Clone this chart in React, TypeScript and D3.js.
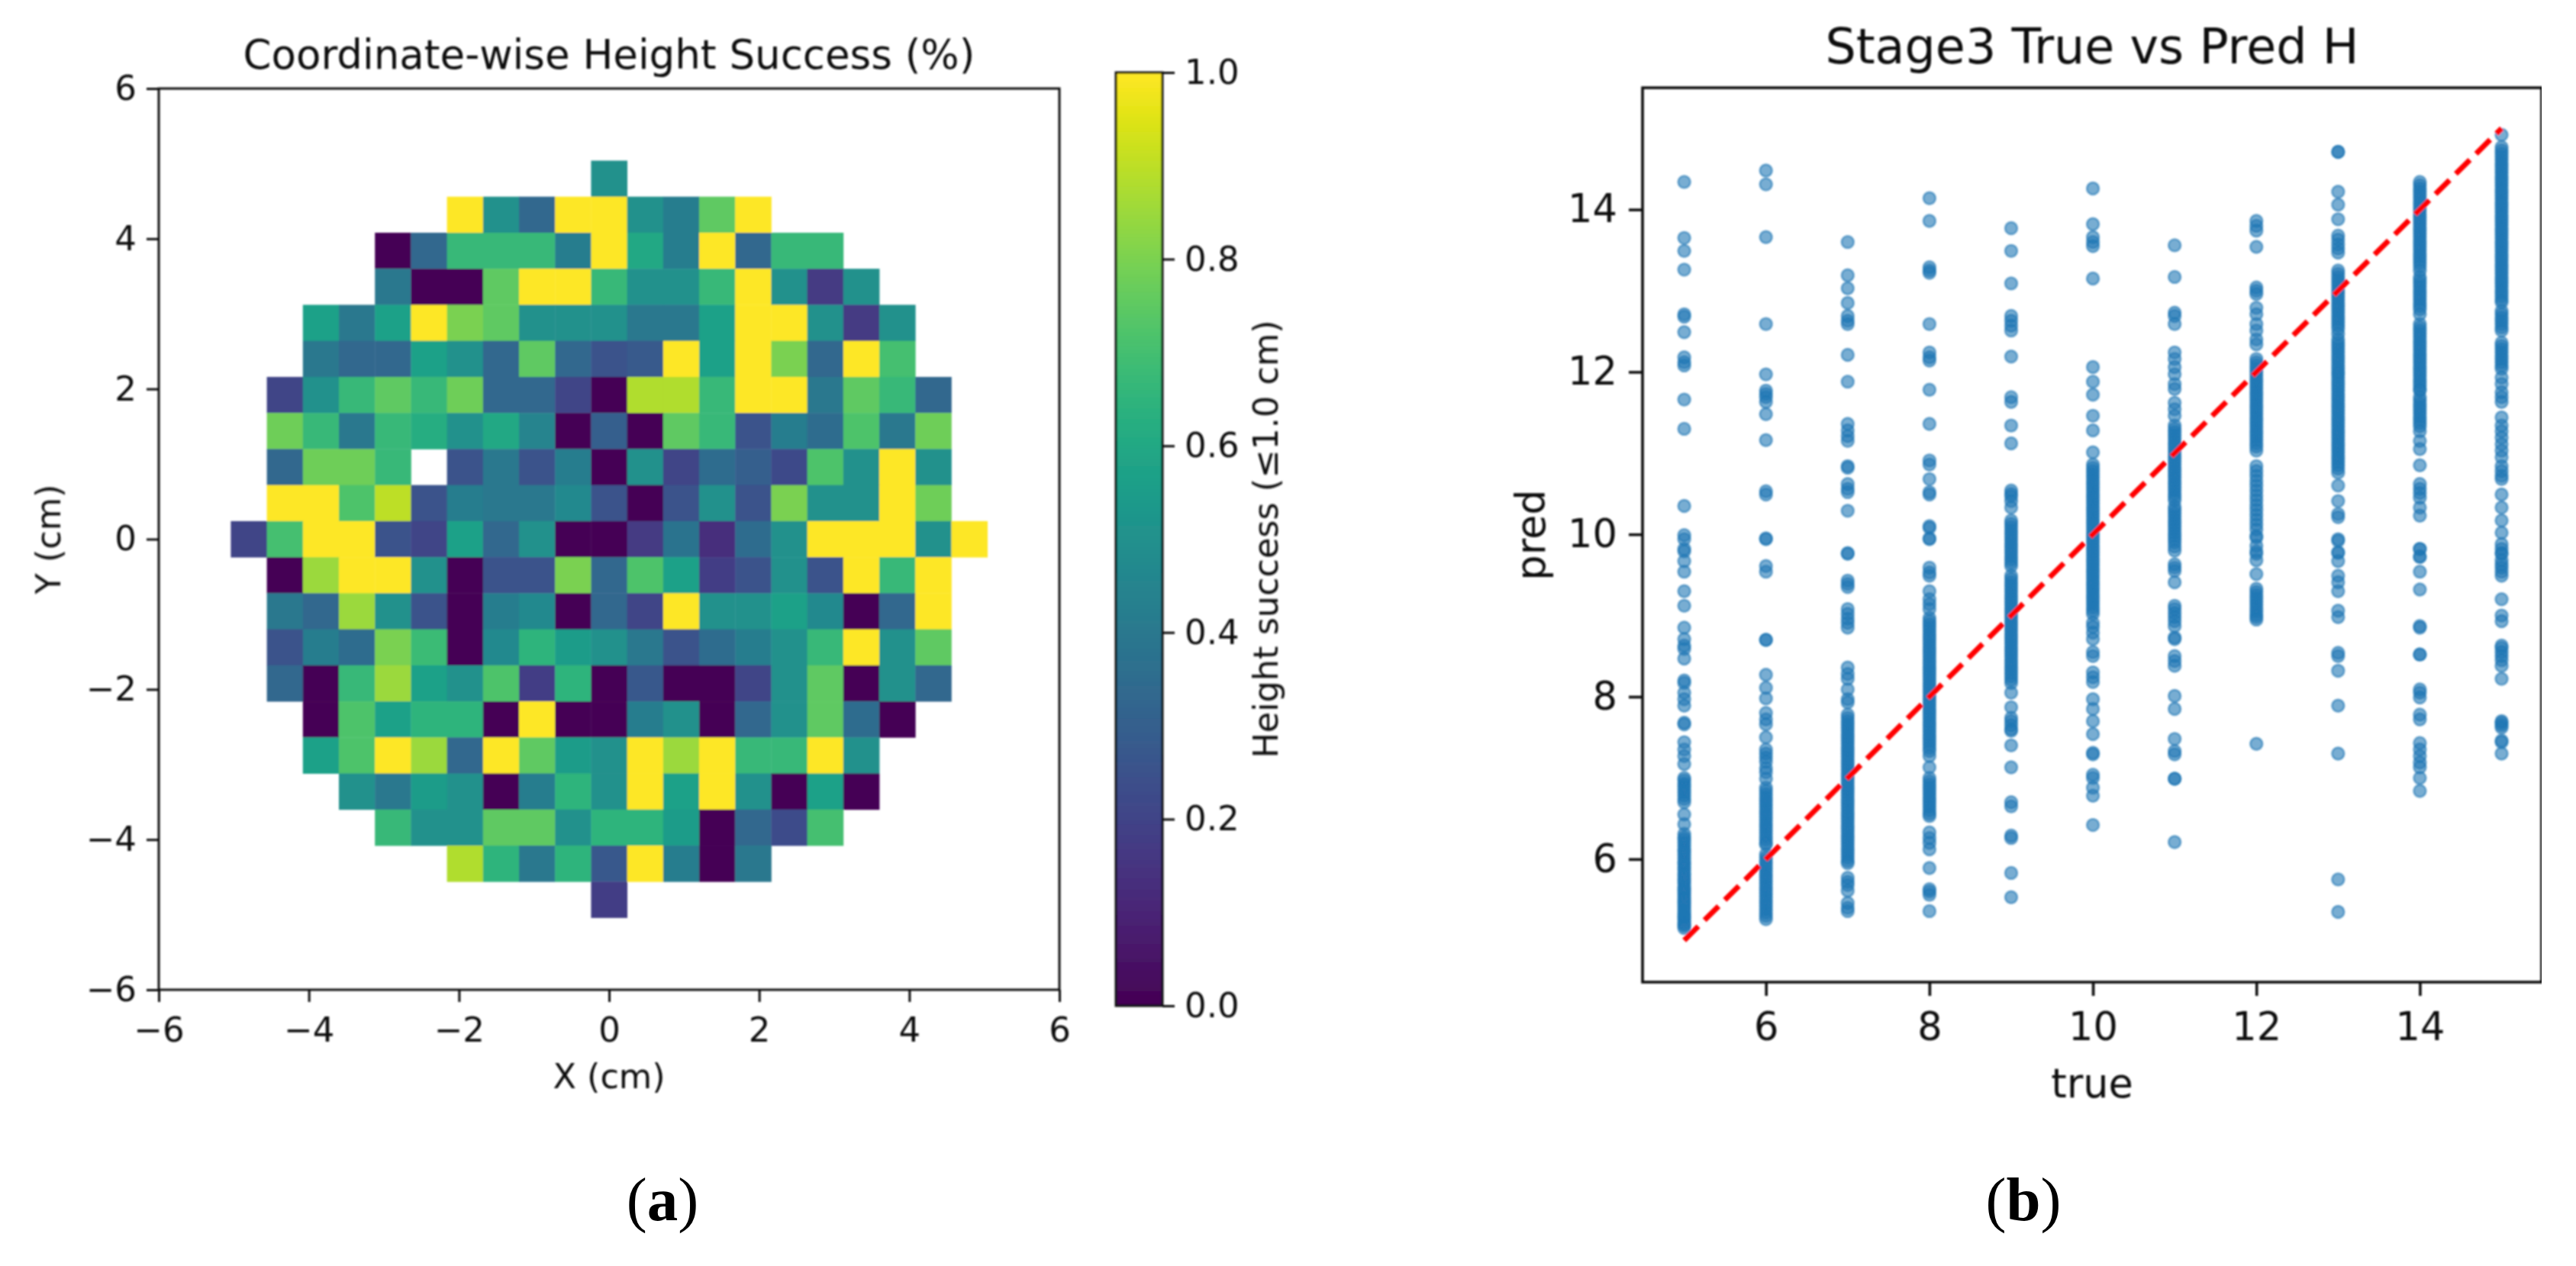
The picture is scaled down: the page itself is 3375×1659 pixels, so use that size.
import React, { useEffect, useRef } from "react";
import * as d3 from "d3";

const W = 3375;
const H = 1659;

// ---------- left panel data: success rate per grid cell, top row first (null = no cell)
const _ = null;
const heatRow00 = [_,_,_,_,_,_,_,_,_,_,.5,_,_,_,_,_,_,_,_,_,_];
const heatRow01 = [_,_,_,_,_,_,1,.5,.33,1,1,.5,.42,.75,1,_,_,_,_,_,_];
const heatRow02 = [_,_,_,_,0,.33,.67,.67,.67,.42,1,.6,.42,1,.33,.67,.67,_,_,_,_];
const heatRow03 = [_,_,_,_,.4,0,0,.75,1,1,.67,.5,.5,.67,1,.5,.17,.5,_,_,_];
const heatRow04 = [_,_,.57,.4,.57,1,.8,.75,.5,.5,.5,.4,.4,.57,1,1,.5,.17,.5,_,_];
const heatRow05 = [_,_,.4,.33,.33,.57,.5,.33,.75,.33,.25,.28,1,.57,1,.8,.33,1,.7,_,_];
const heatRow06 = [_,.2,.5,.67,.75,.67,.78,.33,.33,.2,0,.88,.88,.67,1,1,.4,.75,.67,.33,_];
const heatRow07 = [_,.78,.67,.4,.67,.62,.5,.6,.45,0,.3,0,.75,.67,.25,.42,.35,.72,.4,.78,_];
const heatRow08 = [_,.33,.78,.78,.67,_,.25,.4,.25,.42,0,.5,.2,.35,.3,.22,.72,.5,1,.5,_];
const heatRow09 = [_,1,1,.72,.9,.25,.42,.4,.4,.47,.25,0,.25,.5,.25,.8,.5,.5,1,.78,_];
const heatRow10 = [.2,.7,1,1,.25,.2,.57,.33,.5,0,0,.17,.38,.13,.35,.5,1,1,1,.5,1];
const heatRow11 = [_,0,.85,1,1,.5,0,.25,.25,.8,.33,.72,.57,.18,.25,.5,.25,1,.67,1,_];
const heatRow12 = [_,.4,.33,.85,.5,.25,0,.42,.47,0,.33,.2,1,.5,.5,.57,.47,0,.33,1,_];
const heatRow13 = [_,.25,.42,.35,.8,.68,0,.47,.65,.55,.5,.4,.25,.35,.42,.5,.67,1,.5,.75,_];
const heatRow14 = [_,.33,0,.67,.85,.57,.5,.72,.18,.65,0,.27,0,0,.2,.5,.75,0,.5,.33,_];
const heatRow15 = [_,_,0,.72,.57,.65,.65,0,1,0,0,.42,.5,0,.33,.5,.75,.35,0,_,_];
const heatRow16 = [_,_,.57,.72,1,.85,.33,1,.75,.55,.5,1,.85,1,.67,.67,1,.5,_,_,_];
const heatRow17 = [_,_,_,.5,.4,.55,.5,0,.42,.65,.5,1,.57,1,.5,0,.57,0,_,_,_];
const heatRow18 = [_,_,_,_,.67,.5,.5,.75,.75,.5,.65,.65,.55,0,.33,.23,.7,_,_,_,_];
const heatRow19 = [_,_,_,_,_,_,.88,.65,.4,.65,.27,1,.42,0,.4,_,_,_,_,_,_];
const heatRow20 = [_,_,_,_,_,_,_,_,_,_,.18,_,_,_,_,_,_,_,_,_,_];
const heatRows = [heatRow00,heatRow01,heatRow02,heatRow03,heatRow04,heatRow05,heatRow06,heatRow07,heatRow08,heatRow09,heatRow10,heatRow11,heatRow12,heatRow13,heatRow14,heatRow15,heatRow16,heatRow17,heatRow18,heatRow19,heatRow20];
const heatTicks = [-6,-4,-2,0,2,4,6];
const barTicks = [0,.2,.4,.6,.8,1];

// ---------- right panel data: predicted height per true height
const pred05 = [14.34,13.65,13.49,13.26,12.71,12.68,12.49,12.18,12.12,12.08,11.66,11.3,10.35,9.99,9.94,9.82,9.79,9.67,9.54,9.3,9.12,8.85,8.71,8.63,8.59,8.47,8.2,8.17,8.05,7.97,7.89,7.68,7.66,7.44,7.35,7.27,7.17,7,6.97,6.93,6.9,6.86,6.82,6.78,6.74,6.7,6.55,6.43,6.31,6.27,6.24,6.2,6.16,6.12,6.09,6.05,6.01,5.97,5.94,5.9,5.87,5.83,5.8,5.76,5.73,5.7,5.66,5.63,5.6,5.57,5.54,5.51,5.48,5.45,5.42,5.39,5.36,5.33,5.3,5.28,5.25,5.22,5.2,5.18,5.15];
const pred06 = [14.48,14.31,13.66,12.59,11.97,11.77,11.73,11.69,11.63,11.48,11.16,10.53,10.49,9.95,9.94,9.61,9.54,8.7,8.7,8.27,8.11,7.98,7.8,7.72,7.66,7.5,7.35,7.3,7.25,7.2,7.12,7.07,6.99,6.88,6.84,6.8,6.76,6.72,6.68,6.64,6.6,6.56,6.52,6.48,6.44,6.4,6.36,6.32,6.28,6.24,6.2,6.18,6.06,6.02,5.98,5.94,5.9,5.86,5.82,5.78,5.74,5.7,5.66,5.62,5.58,5.54,5.5,5.46,5.42,5.38,5.34,5.3,5.26];
const pred07 = [13.6,13.19,13.03,12.85,12.69,12.63,12.59,12.21,11.88,11.36,11.28,11.21,11.15,10.84,10.82,10.62,10.56,10.52,10.29,9.77,9.76,9.43,9.39,9.35,9.08,9.02,8.96,8.91,8.85,8.36,8.28,8.22,8.09,7.97,7.93,7.78,7.74,7.7,7.66,7.62,7.58,7.54,7.5,7.46,7.42,7.38,7.34,7.3,7.26,7.22,7.18,7.14,7.1,7.06,7.02,6.98,6.94,6.9,6.86,6.82,6.78,6.74,6.7,6.66,6.62,6.58,6.54,6.5,6.46,6.42,6.38,6.34,6.3,6.26,6.22,6.18,6.14,6.1,6.06,6.02,5.98,5.95,5.77,5.72,5.68,5.61,5.46,5.4,5.36];
const pred08 = [14.14,13.86,13.29,13.25,13.22,12.59,12.24,12.18,12.14,11.78,11.36,10.91,10.86,10.68,10.52,10.49,10.1,10.08,9.95,9.94,9.59,9.53,9.49,9.3,9.2,9.14,9.08,8.97,8.93,8.89,8.85,8.81,8.77,8.73,8.69,8.65,8.61,8.57,8.53,8.49,8.45,8.41,8.37,8.33,8.29,8.25,8.21,8.17,8.13,8.09,8.05,8.01,7.97,7.93,7.89,7.85,7.81,7.77,7.73,7.69,7.65,7.61,7.57,7.53,7.49,7.45,7.41,7.37,7.33,7.27,7.13,7,6.96,6.92,6.88,6.84,6.8,6.76,6.72,6.68,6.64,6.6,6.56,6.53,6.33,6.26,6.2,6.12,5.89,5.63,5.6,5.56,5.36];
const pred09 = [13.77,13.49,13.09,12.69,12.63,12.57,12.51,12.19,11.69,11.63,11.34,11.12,10.54,10.5,10.47,10.41,10.33,10.17,10.13,10.09,10.05,10.01,9.97,9.93,9.89,9.85,9.81,9.77,9.73,9.69,9.65,9.61,9.49,9.45,9.41,9.37,9.33,9.29,9.25,9.21,9.17,9.13,9.09,9.05,9.01,8.97,8.93,8.89,8.85,8.81,8.77,8.73,8.69,8.65,8.61,8.57,8.53,8.49,8.45,8.41,8.37,8.33,8.29,8.25,8.21,8.17,8.05,7.87,7.74,7.7,7.65,7.6,7.58,7.4,7.13,6.7,6.65,6.29,6.26,5.83,5.53];
const pred10 = [14.26,13.82,13.66,13.6,13.55,13.15,12.06,11.88,11.72,11.46,11.28,11.01,10.86,10.82,10.78,10.74,10.7,10.66,10.62,10.58,10.54,10.5,10.46,10.42,10.38,10.34,10.3,10.26,10.22,10.18,10.14,10.1,10.06,10.02,9.98,9.94,9.9,9.86,9.82,9.78,9.74,9.7,9.66,9.62,9.58,9.54,9.5,9.46,9.42,9.38,9.34,9.3,9.26,9.22,9.18,9.14,9.1,9.06,9.02,8.91,8.86,8.79,8.71,8.55,8.5,8.3,8.24,8.18,7.97,7.85,7.7,7.54,7.31,7.29,7.04,7,6.88,6.78,6.42];
const pred11 = [13.56,13.17,12.73,12.69,12.59,12.24,12.16,12.06,11.97,11.85,11.79,11.62,11.54,11.46,11.34,11.3,11.26,11.22,11.18,11.14,11.1,11.06,11.02,10.98,10.94,10.9,10.86,10.82,10.78,10.74,10.7,10.66,10.62,10.58,10.54,10.5,10.46,10.42,10.34,10.3,10.26,10.22,10.18,10.14,10.1,10.06,10.02,9.98,9.94,9.9,9.85,9.8,9.63,9.59,9.55,9.41,9.12,9.08,9.03,8.98,8.93,8.87,8.73,8.71,8.5,8.44,8.38,8.01,7.85,7.48,7.33,7.29,6.99,6.99,6.21];
const pred12 = [13.86,13.8,13.74,13.54,13.04,13,12.96,12.79,12.71,12.59,12.51,12.4,12.34,12.16,12.12,12.08,12.04,12,11.96,11.92,11.88,11.84,11.8,11.76,11.72,11.68,11.64,11.6,11.56,11.52,11.48,11.44,11.4,11.36,11.32,11.28,11.24,11.2,11.16,11.12,11.08,11.03,10.84,10.78,10.72,10.66,10.6,10.54,10.48,10.42,10.36,10.3,10.24,10.18,10.12,10.06,9.98,9.96,9.86,9.79,9.76,9.68,9.51,9.33,9.29,9.25,9.21,9.17,9.13,9.09,9.05,9.01,8.98,8.95,7.42];
const pred13 = [14.71,14.71,14.22,14.06,13.88,13.68,13.63,13.57,13.52,13.47,13.25,13.21,13.17,13.13,13.09,13.05,13.01,12.97,12.93,12.89,12.85,12.81,12.77,12.73,12.69,12.65,12.61,12.57,12.53,12.47,12.4,12.36,12.32,12.28,12.24,12.2,12.16,12.12,12.08,12.04,12,11.97,11.93,11.89,11.85,11.81,11.77,11.73,11.69,11.65,11.61,11.57,11.53,11.49,11.45,11.41,11.37,11.33,11.29,11.25,11.21,11.17,11.13,11.09,11.05,11.01,10.97,10.93,10.89,10.85,10.81,10.76,10.6,10.41,10.25,10.21,9.92,9.77,9.94,9.78,9.67,9.49,9.41,9.3,9.06,8.98,8.54,8.5,8.32,7.89,7.3,5.75,5.35];
const pred14 = [14.34,14.3,14.26,14.22,14.18,14.14,14.1,14.06,14.02,13.98,13.94,13.9,13.86,13.82,13.78,13.74,13.7,13.66,13.62,13.58,13.54,13.5,13.46,13.42,13.38,13.34,13.3,13.25,13.17,13.13,13.09,13.05,13.01,12.97,12.93,12.89,12.85,12.81,12.77,12.71,12.59,12.55,12.51,12.47,12.43,12.39,12.35,12.31,12.27,12.23,12.19,12.15,12.11,12.07,12.03,11.99,11.95,11.91,11.87,11.83,11.79,11.77,11.69,11.65,11.61,11.57,11.53,11.49,11.45,11.41,11.37,11.33,11.27,11.15,11.05,10.85,10.62,10.56,10.51,10.45,10.33,10.23,9.82,9.73,9.82,9.72,9.54,9.32,8.87,8.85,8.52,8.52,8.09,8.05,7.99,7.78,7.72,7.43,7.35,7.27,7.19,7.13,7,6.84];
const pred15 = [14.92,14.77,14.73,14.69,14.65,14.61,14.57,14.53,14.49,14.45,14.41,14.37,14.33,14.29,14.25,14.21,14.17,14.13,14.09,14.05,14.01,13.97,13.93,13.89,13.85,13.81,13.77,13.73,13.69,13.65,13.61,13.57,13.53,13.49,13.45,13.41,13.37,13.33,13.29,13.25,13.21,13.17,13.13,13.09,13.05,13.01,12.97,12.93,12.89,12.86,12.75,12.71,12.67,12.63,12.59,12.55,12.51,12.36,12.32,12.28,12.24,12.2,12.16,12.12,12.08,12.04,11.93,11.85,11.75,11.69,11.63,11.44,11.34,11.27,11.19,11.11,11.03,10.95,10.84,10.78,10.72,10.68,10.49,10.33,10.17,10.02,9.88,9.77,9.82,9.76,9.68,9.63,9.59,9.54,9.49,9.2,9,8.93,8.63,8.6,8.55,8.5,8.45,8.38,8.22,7.7,7.68,7.65,7.62,7.46,7.44,7.3];
const trueHeights = [5,6,7,8,9,10,11,12,13,14,15];
const predByTrue = [pred05,pred06,pred07,pred08,pred09,pred10,pred11,pred12,pred13,pred14,pred15];
const scatterXTicks = [6,8,10,12,14];
const scatterYTicks = [6,8,10,12,14];
const idealLine = [5,15];

// ---------- layout
const heatBox = { l: 208, r: 1388, t: 116, b: 1297 };
const barBox = { l: 1462, r: 1523, t: 95, b: 1318 };
const scatBox = { l: 2152, r: 3330, t: 115, b: 1287 };
const FONT = "'DejaVu Sans', sans-serif";
const INK = "#111";

const heatX = d3.scaleLinear().domain([-6, 6]).range([heatBox.l, heatBox.r]);
const heatY = d3.scaleLinear().domain([-6, 6]).range([heatBox.b, heatBox.t]);
const colBand = d3.scaleBand<number>().domain(d3.range(21)).range([heatX(-5.04), heatX(5.04)]);
const rowBand = d3.scaleBand<number>().domain(d3.range(21)).range([heatY(5.04), heatY(-5.04)]);
const barY = d3.scaleLinear().domain([0, 1]).range([barBox.b, barBox.t]);
const barSteps = d3.range(256);
const scatX = d3.scaleLinear().domain([4.49, 15.49]).range([scatBox.l, scatBox.r]);
const scatY = d3.scaleLinear().domain([4.485, 15.5]).range([scatBox.b, scatBox.t]);

type AxisSpec = {
  kind: "bottom" | "left" | "right";
  scale: d3.ScaleLinear<number, number>;
  ticks: number[];
  fmt: (v: number) => string;
  at: number;
  size: number;
  font: number;
  pad: number;
  sw: number;
};

function Axis({ kind, scale, ticks, fmt, at, size, font, pad, sw }: AxisSpec) {
  const ref = useRef<SVGGElement>(null);
  useEffect(() => {
    const make = kind === "bottom" ? d3.axisBottom : kind === "left" ? d3.axisLeft : d3.axisRight;
    const axis = make(scale).tickValues(ticks).tickFormat((v) => fmt(+v)).tickSize(size).tickPadding(pad);
    const g = d3.select(ref.current as SVGGElement);
    g.call(axis as any);
    g.select(".domain").remove();
    g.selectAll("line").attr("stroke", INK).attr("stroke-width", sw);
    g.selectAll("text").attr("fill", INK).style("font-family", FONT).style("font-size", `${font}px`);
  }, []);
  return <g ref={ref} transform={kind === "bottom" ? `translate(0,${at})` : `translate(${at},0)`} />;
}

const intFmt = d3.format("d");
const oneFmt = d3.format(".1f");

function Frame({ box, sw }: { box: { l: number; r: number; t: number; b: number }; sw: number }) {
  return <rect x={box.l} y={box.t} width={box.r - box.l} height={box.b - box.t} fill="none" stroke={INK} strokeWidth={sw} />;
}

export default function App() {
  return (
    <svg width={W} height={H} viewBox={`0 0 ${W} ${H}`} style={{ position: "absolute", left: 0, top: 0, background: "#fff" }}>
      <defs>
        <filter id="soft" x="0" y="0" width="100%" height="100%">
          <feGaussianBlur stdDeviation="0.9" />
        </filter>
      </defs>
      <g filter="url(#soft)">
        {/* left heat map */}
        {heatRows.map((row, r) =>
          row.map((v, c) =>
            v === null ? null : (
              <rect key={`${r}-${c}`} x={colBand(c)} y={rowBand(r)} width={colBand.bandwidth() + 0.4} height={rowBand.bandwidth() + 0.4} fill={d3.interpolateViridis(v)} />
            )
          )
        )}
        <Frame box={heatBox} sw={3} />
        <Axis kind="bottom" scale={heatX} ticks={heatTicks} fmt={intFmt} at={heatBox.b} size={16} font={45} pad={20} sw={3} />
        <Axis kind="left" scale={heatY} ticks={heatTicks} fmt={intFmt} at={heatBox.l} size={16} font={45} pad={13} sw={3} />
        <text x={(heatBox.l + heatBox.r) / 2} y={90} textAnchor="middle" fontFamily={FONT} fontSize={53} fill={INK}>Coordinate-wise Height Success (%)</text>
        <text x={(heatBox.l + heatBox.r) / 2} y={1426} textAnchor="middle" fontFamily={FONT} fontSize={44.5} fill={INK}>X (cm)</text>
        <text transform={`translate(79,${(heatBox.t + heatBox.b) / 2}) rotate(-90)`} textAnchor="middle" fontFamily={FONT} fontSize={44.5} fill={INK}>Y (cm)</text>

        {/* colour bar */}
        {barSteps.map((i) => (
          <rect key={i} x={barBox.l} y={barY((i + 1) / 256)} width={barBox.r - barBox.l} height={(barBox.b - barBox.t) / 256 + 1} fill={d3.interpolateViridis(i / 255)} />
        ))}
        <Frame box={barBox} sw={3} />
        <Axis kind="right" scale={barY} ticks={barTicks} fmt={oneFmt} at={barBox.r} size={16} font={45} pad={13} sw={3} />
        <text transform={`translate(1674,${(barBox.t + barBox.b) / 2}) rotate(-90)`} textAnchor="middle" fontFamily={FONT} fontSize={44.5} fill={INK}>Height success (≤1.0 cm)</text>

        {/* right scatter */}
        {predByTrue.map((ys, i) =>
          ys.map((p, j) => (
            <circle key={`${i}-${j}`} cx={scatX(trueHeights[i])} cy={scatY(p)} r={8} fill="#1f77b4" fillOpacity={0.6} stroke="#1f77b4" strokeOpacity={0.6} strokeWidth={2.4} />
          ))
        )}
        <line x1={scatX(idealLine[0])} y1={scatY(idealLine[0])} x2={scatX(idealLine[1])} y2={scatY(idealLine[1])} stroke="#ff0000" strokeWidth={7} strokeDasharray="26 11.5" />
        <Frame box={scatBox} sw={3.6} />
        <Axis kind="bottom" scale={scatX} ticks={scatterXTicks} fmt={intFmt} at={scatBox.b} size={18} font={51} pad={22} sw={3.6} />
        <Axis kind="left" scale={scatY} ticks={scatterYTicks} fmt={intFmt} at={scatBox.l} size={18} font={51} pad={15} sw={3.6} />
        <text x={(scatBox.l + scatBox.r) / 2} y={83} textAnchor="middle" fontFamily={FONT} fontSize={63.5} fill={INK}>Stage3 True vs Pred H</text>
        <text x={(scatBox.l + scatBox.r) / 2} y={1438} textAnchor="middle" fontFamily={FONT} fontSize={52.5} fill={INK}>true</text>
        <text transform={`translate(2024,${(scatBox.t + scatBox.b) / 2}) rotate(-90)`} textAnchor="middle" fontFamily={FONT} fontSize={52.5} fill={INK}>pred</text>
      </g>

      {/* sub-figure captions */}
      <text x={868} y={1599} textAnchor="middle" fontFamily="'Liberation Serif', serif" fontSize={81} fill="#000">(<tspan fontWeight="bold">a</tspan>)</text>
      <text x={2651} y={1599} textAnchor="middle" fontFamily="'Liberation Serif', serif" fontSize={81} fill="#000">(<tspan fontWeight="bold">b</tspan>)</text>
    </svg>
  );
}
